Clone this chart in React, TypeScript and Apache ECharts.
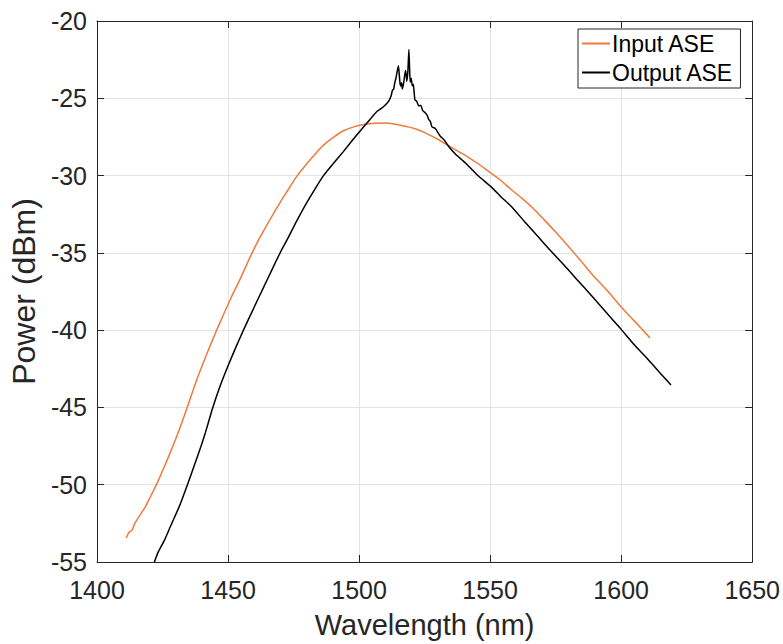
import React, { useEffect, useRef } from "react";
import * as echarts from "echarts";

const xTicks = [1400, 1450, 1500, 1550, 1600, 1650];
const yTicks = [-55, -50, -45, -40, -35, -30, -25, -20];

const inputX = [
  1411.2, 1411.8, 1412.4, 1413.1, 1413.6, 1414.3, 1415.5, 1416.8, 1418.2, 1420.0,
  1421.5, 1423.2, 1425.0, 1427.5, 1431.0, 1434.5, 1438.3, 1442.0, 1445.9, 1450.9,
  1455.0, 1458.9, 1462.0, 1466.0, 1470.0, 1473.0, 1476.0, 1479.0, 1482.0, 1486.0,
  1490.0, 1494.0, 1498.0, 1502.0, 1506.0, 1510.0, 1514.0, 1518.0, 1522.0, 1526.0,
  1530.0, 1534.0, 1538.0, 1542.0, 1546.0, 1550.0, 1554.0, 1558.0, 1562.0, 1566.0,
  1570.0, 1575.0, 1580.0, 1585.0, 1590.0, 1595.0, 1600.0, 1605.0, 1611.0,
];
const inputY = [
  -53.45, -53.2, -53.05, -53.0, -52.85, -52.55, -52.2, -51.85, -51.5, -50.9,
  -50.4, -49.8, -49.1, -48.1, -46.6, -44.95, -43.1, -41.5, -39.9, -38.0,
  -36.55, -35.1, -34.05, -32.85, -31.7, -30.9, -30.1, -29.45, -28.85, -28.1,
  -27.55, -27.1, -26.85, -26.7, -26.62, -26.6, -26.68, -26.82, -27.0, -27.3,
  -27.65, -28.05, -28.45, -28.85, -29.3, -29.8, -30.3, -30.9, -31.45, -32.05,
  -32.75, -33.65, -34.6, -35.6, -36.6, -37.5, -38.5, -39.4, -40.5,
];

const outputX = [
  1420.8, 1421.9, 1423.5, 1425.7, 1428.0, 1431.4, 1434.5, 1437.0, 1439.5, 1441.4,
  1444.0, 1447.0, 1450.0, 1453.0, 1456.0, 1460.0, 1463.5, 1467.0, 1470.0, 1473.0,
  1476.0, 1479.0, 1482.5, 1486.2, 1490.0, 1494.0, 1498.0, 1502.0, 1504.0, 1505.0,
  1506.5, 1508.5, 1510.2, 1511.4, 1512.2, 1512.7, 1513.2, 1513.6, 1514.0, 1514.5,
  1515.0, 1515.3, 1515.6, 1515.9, 1516.2, 1516.5, 1517.0, 1517.5, 1517.8, 1518.2,
  1518.6, 1519.0, 1519.3, 1519.5, 1519.9, 1520.3, 1520.7, 1521.0, 1521.3, 1522.0,
  1522.8, 1523.5, 1524.3, 1525.3, 1526.0, 1526.5, 1527.2, 1527.8, 1529.1, 1530.0,
  1531.0, 1532.5, 1534.1, 1537.0, 1540.4, 1545.0, 1550.5, 1554.0, 1558.1, 1563.0,
  1568.0, 1573.0, 1578.0, 1583.0, 1588.3, 1594.0, 1600.0, 1605.0, 1610.0, 1615.0,
  1619.0,
];
const outputY = [
  -55.6, -55.0, -54.3, -53.6, -52.7, -51.4, -50.0, -48.8, -47.6, -46.6,
  -45.1, -43.6, -42.3, -41.1, -39.95, -38.5, -37.25, -36.0, -34.95, -34.0,
  -33.0, -32.05, -31.05, -30.05, -29.25, -28.45, -27.6, -26.8, -26.4, -26.2,
  -25.9, -25.65, -25.4, -25.15, -24.85, -24.5, -24.4, -24.0, -23.75, -23.3,
  -22.9, -23.4, -24.0, -24.2, -24.0, -24.4, -24.0, -23.4, -23.2, -23.9,
  -23.3, -21.85, -23.2, -23.96, -23.7, -24.2, -24.1, -24.6, -25.1, -25.2,
  -25.5, -25.45, -25.8, -25.95, -26.1, -26.35, -26.5, -26.85, -26.95, -27.2,
  -27.45, -27.7, -28.1, -28.65, -29.15, -29.95, -30.75, -31.35, -32.0, -32.95,
  -33.9, -34.85, -35.75, -36.7, -37.7, -38.8, -39.95, -40.95, -41.85, -42.8,
  -43.55,
];

const FONT = "'Liberation Sans', Arial, Helvetica, sans-serif";
const AX = "#262626";
const GRID = "#e3e3e3";

export default function App() {
  const ref = useRef<HTMLDivElement>(null);
  useEffect(() => {
    if (!ref.current) return;
    const chart = echarts.init(ref.current, undefined, { renderer: "svg" });
    const inputData = inputX.map((x, i) => [x, inputY[i]]);
    const outputData = outputX.map((x, i) => [x, outputY[i]]);
    const xMin = xTicks[0];
    const xMax = xTicks[xTicks.length - 1];
    const yMin = yTicks[0];
    const yMax = yTicks[yTicks.length - 1];
    const tickAxis = (extra: any) => ({
      type: "value",
      z: 5,
      axisLine: { show: true, onZero: false, lineStyle: { color: AX, width: 1 } },
      axisTick: { show: true, inside: true, length: 7, lineStyle: { color: AX } },
      splitLine: { show: false },
      ...extra,
    });
    const gridAxis = (extra: any) => ({
      type: "value",
      z: 0,
      axisLine: { show: false },
      axisTick: { show: false },
      axisLabel: { show: false },
      splitLine: { show: true, lineStyle: { color: GRID, width: 1 } },
      ...extra,
    });
    chart.setOption({
      animation: false,
      backgroundColor: "#ffffff",
      textStyle: { fontFamily: FONT },
      grid: { left: 92, right: 30, top: 21, bottom: 72, containLabel: false },
      legend: {
        data: ["Input ASE", "Output ASE"],
        orient: "vertical",
        left: 578,
        top: 29,
        icon: "rect",
        itemWidth: 28,
        itemHeight: 2,
        itemGap: 6,
        padding: [3, 7, 4, 4],
        backgroundColor: "#ffffff",
        borderColor: AX,
        borderWidth: 1,
        borderRadius: 0,
        textStyle: { fontSize: 23, color: "#000000", fontFamily: FONT, padding: [0, 0, 0, -3] },
      },
      xAxis: [
        tickAxis({
          min: xMin,
          max: xMax,
          interval: 50,
          position: "bottom",
          name: "Wavelength (nm)",
          nameLocation: "middle",
          nameGap: 48,
          nameTextStyle: { fontSize: 29, color: AX, fontFamily: FONT },
          axisLabel: {
            fontSize: 25,
            color: AX,
            margin: 15,
            fontFamily: FONT,
            formatter: (v: number) => String(v),
          },
        }),
        tickAxis({
          min: xMin,
          max: xMax,
          interval: 50,
          position: "top",
          axisLabel: { show: false },
        }),
        gridAxis({ min: xMin, max: xMax, interval: 50, position: "bottom" }),
      ],
      yAxis: [
        tickAxis({
          min: yMin,
          max: yMax,
          interval: 5,
          position: "left",
          name: "Power (dBm)",
          nameLocation: "middle",
          nameGap: 48,
          nameTextStyle: { fontSize: 32, color: AX, fontFamily: FONT },
          axisLabel: {
            fontSize: 25,
            color: AX,
            margin: 10,
            fontFamily: FONT,
            formatter: (v: number) => String(v),
          },
        }),
        tickAxis({
          min: yMin,
          max: yMax,
          interval: 5,
          position: "right",
          axisLabel: { show: false },
        }),
        gridAxis({ min: yMin, max: yMax, interval: 5, position: "left" }),
      ],
      series: [
        {
          name: "Input ASE",
          type: "line",
          xAxisIndex: 0,
          yAxisIndex: 0,
          data: inputData,
          showSymbol: false,
          symbol: "none",
          smooth: 0.35,
          clip: true,
          z: 3,
          color: "#ee7a3c",
          lineStyle: { color: "#ee7a3c", width: 1.5 },
        },
        {
          name: "Output ASE",
          type: "line",
          xAxisIndex: 0,
          yAxisIndex: 0,
          data: outputData,
          showSymbol: false,
          symbol: "none",
          smooth: 0.15,
          clip: true,
          z: 4,
          color: "#000000",
          lineStyle: { color: "#000000", width: 1.5 },
        },
      ],
    });
    return () => chart.dispose();
  }, []);
  return (
    <div
      ref={ref}
      style={{ width: 783, height: 644, position: "absolute", left: 0, top: 0, background: "#fff" }}
    />
  );
}
